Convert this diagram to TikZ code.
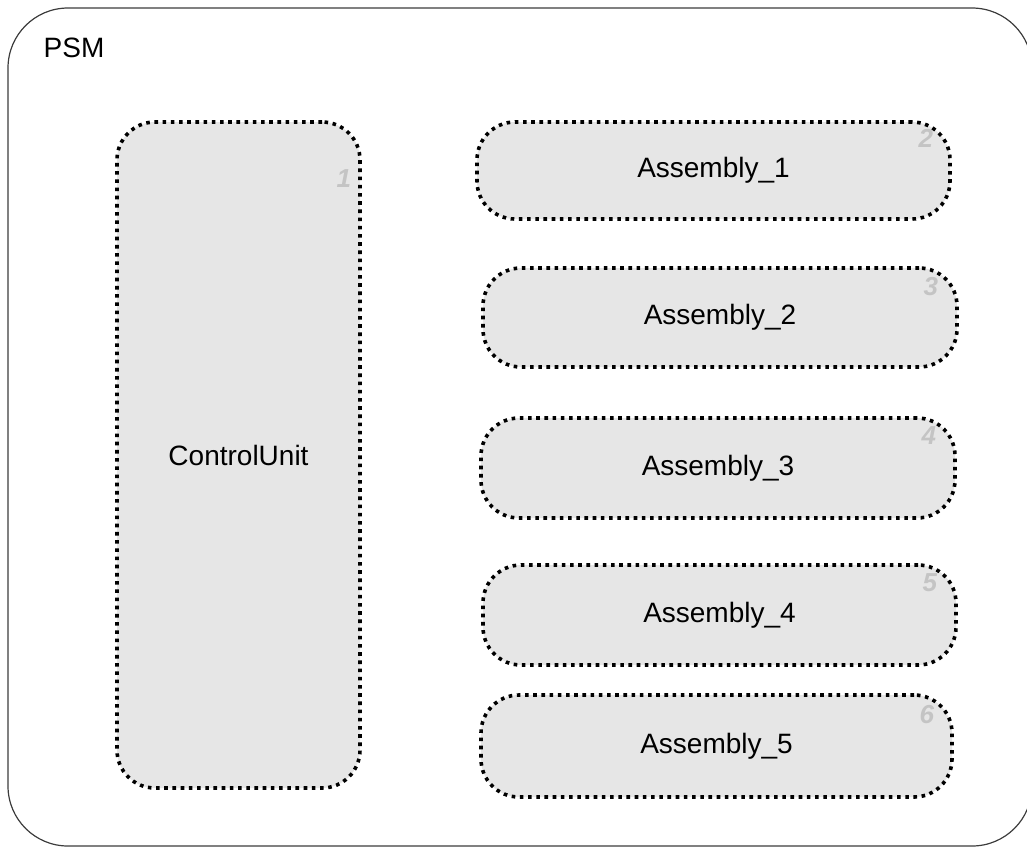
\documentclass[tikz,border=0pt]{standalone}
\usepackage{fontspec}
\setmainfont{Liberation Sans}
\usetikzlibrary{positioning}

\definecolor{partgray}{HTML}{E6E6E6}
\definecolor{numgray}{HTML}{C4C4C4}
\definecolor{framegray}{HTML}{3C3C3C}

\tikzset{
  partbox/.style={draw=black, fill=partgray, line width=1.8pt, line cap=butt,
    dash pattern=on 1.8pt off 2.3pt, rounded corners=19pt, inner sep=0pt,
    font=\fontsize{14}{17}\selectfont},
  partnum/.style={text=numgray, inner sep=0pt,
    font=\fontsize{13}{15}\selectfont\bfseries\itshape},
}

\begin{document}
\begin{tikzpicture}[x=0.5pt, y=-0.5pt, line join=round]

\useasboundingbox (0,0) rectangle (1027,848);

\draw[framegray, line width=0.6pt, rounded corners=30pt] (8,8) rectangle (1032,846);
\node[font=\fontsize{14}{17}\selectfont] (psm) at (74,48) {PSM};

\node[partbox, minimum width=121.5pt, minimum height=333pt] (cu) at (238.5,455) {ControlUnit};
\node[partbox, minimum width=236.5pt, minimum height=48.5pt] (asm1) at (713.5,170.5) {Assembly\_1};
\node[partbox, minimum width=237pt, minimum height=49.5pt] (asm2) at (720,317.5) {Assembly\_2};
\node[partbox, minimum width=237pt, minimum height=50pt] (asm3) at (718,468) {Assembly\_3};
\node[partbox, minimum width=236.5pt, minimum height=50pt] (asm4) at (719.5,615) {Assembly\_4};
\node[partbox, minimum width=235.5pt, minimum height=51pt] (asm5) at (716.5,746) {Assembly\_5};

\node[partnum] (n1) at ([xshift=-9pt, yshift=-29pt]cu.north east) {1};
\node[partnum] (n2) at ([xshift=-13pt, yshift=-9pt]asm1.north east) {2};
\node[partnum] (n3) at ([xshift=-14pt, yshift=-10pt]asm2.north east) {3};
\node[partnum] (n4) at ([xshift=-14pt, yshift=-9.5pt]asm3.north east) {4};
\node[partnum] (n5) at ([xshift=-14pt, yshift=-9.5pt]asm4.north east) {5};
\node[partnum] (n6) at ([xshift=-13.5pt, yshift=-10.5pt]asm5.north east) {6};

\end{tikzpicture}
\end{document}
